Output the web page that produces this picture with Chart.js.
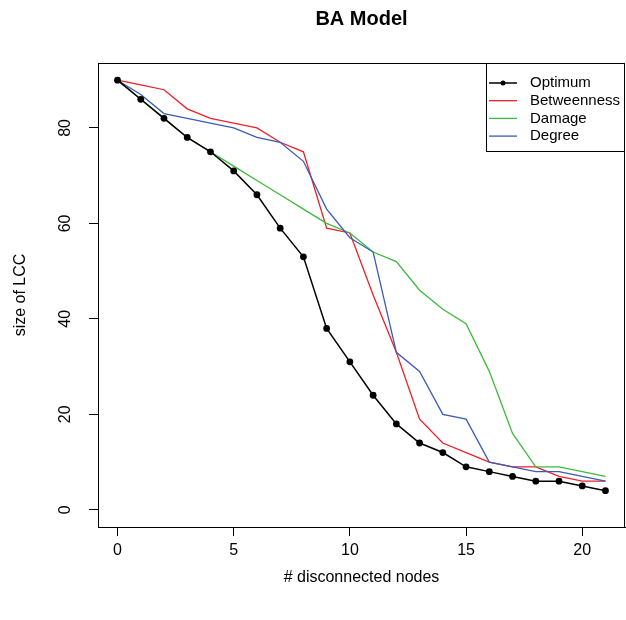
<!DOCTYPE html>
<html>
<head>
<meta charset="utf-8">
<script src="https://cdn.jsdelivr.net/npm/chart.js@4/dist/chart.umd.min.js"></script>
<style>
  html, body { margin: 0; padding: 0; background: #fff; }
  canvas { display: block; }
</style>
</head>
<body>
<canvas id="chart" width="626" height="620"></canvas>
<script>
const nodesRemoved = [0, 1, 2, 3, 4, 5, 6, 7, 8, 9, 10, 11, 12, 13, 14, 15, 16, 17, 18, 19, 20, 21];
const optimum     = [90, 86, 82, 78, 75, 71, 66, 59, 53, 38, 31, 24, 18, 14, 12, 9, 8, 7, 6, 6, 5, 4];
const betweenness = [90, 89, 88, 84, 82, 81, 80, 77, 75, 59, 58, 45, 33, 19, 14, 12, 10, 9, 9, 7, 6, 6];
const damage      = [90, 86, 82, 78, 75, 72, 69, 66, 63, 60, 58, 54, 52, 46, 42, 39, 29, 16, 9, 9, 8, 7];
const degree      = [90, 87, 83, 82, 81, 80, 78, 77, 73, 63, 57, 54, 33, 29, 20, 19, 10, 9, 8, 8, 7, 6];

const xTicks = [0, 5, 10, 15, 20];
const yTicks = [0, 20, 40, 60, 80];

const FONT = "'Liberation Sans', Arial, sans-serif";

function pts(ys) {
  return nodesRemoved.map((x, i) => ({ x: x, y: ys[i] }));
}

// box, rotated y labels, titles and the R-style legend
const rStyle = {
  id: "rStyle",
  afterDraw(chart) {
    const ctx = chart.ctx;
    const a = chart.chartArea;
    const ys = chart.scales.y;
    ctx.save();
    ctx.strokeStyle = "#000";
    ctx.lineWidth = 1;
    ctx.strokeRect(Math.round(a.left) + 0.5, Math.round(a.top) + 0.5,
      Math.round(a.right - a.left) - 1, Math.round(a.bottom - a.top));

    ctx.fillStyle = "#000";
    ctx.font = "16px " + FONT;
    ctx.textAlign = "center";
    ctx.textBaseline = "middle";
    yTicks.forEach(v => {
      ctx.save();
      ctx.translate(66, ys.getPixelForValue(v));
      ctx.rotate(-Math.PI / 2);
      ctx.fillText(String(v), 0, 0);
      ctx.restore();
    });

    const cx = (a.left + a.right) / 2;
    ctx.fillText("# disconnected nodes", cx, 578);
    ctx.save();
    ctx.translate(21, (a.top + a.bottom) / 2);
    ctx.rotate(-Math.PI / 2);
    ctx.fillText("size of LCC", 0, 0);
    ctx.restore();

    ctx.font = "bold 20px " + FONT;
    ctx.fillText("BA Model", cx, 19);

    // legend
    const lx = 486, ly = Math.round(a.top);
    ctx.strokeRect(lx + 0.5, ly + 0.5, Math.round(a.right) - lx - 1, 151 - ly);
    ctx.font = "15px " + FONT;
    ctx.textAlign = "left";
    chart.data.datasets.forEach((ds, i) => {
      const y = 83 + i * 17.7;
      ctx.strokeStyle = ds.borderColor;
      ctx.lineWidth = ds.borderWidth;
      ctx.beginPath();
      ctx.moveTo(489, y);
      ctx.lineTo(517, y);
      ctx.stroke();
      if (ds.pointRadius > 0) {
        ctx.fillStyle = ds.pointBackgroundColor;
        ctx.beginPath();
        ctx.arc(503, y, 2.5, 0, Math.PI * 2);
        ctx.fill();
      }
      ctx.fillStyle = "#000";
      ctx.fillText(ds.label, 530, y);
    });
    ctx.restore();
  }
};

new Chart(document.getElementById("chart"), {
  type: "line",
  data: {
    datasets: [
      { label: "Optimum", data: pts(optimum), borderColor: "#000", backgroundColor: "#000",
        pointBackgroundColor: "#000", pointBorderColor: "#000", borderWidth: 1.5,
        pointRadius: 3.4, pointBorderWidth: 0, tension: 0, order: 0 },
      { label: "Betweenness", data: pts(betweenness), borderColor: "#F01F28", borderWidth: 1.3,
        pointRadius: 0, tension: 0, order: 3 },
      { label: "Damage", data: pts(damage), borderColor: "#3DBA3D", borderWidth: 1.3,
        pointRadius: 0, tension: 0, order: 2 },
      { label: "Degree", data: pts(degree), borderColor: "#3A5BB8", borderWidth: 1.3,
        pointRadius: 0, tension: 0, order: 1 }
    ]
  },
  options: {
    responsive: false,
    animation: false,
    devicePixelRatio: 1,
    layout: { autoPadding: false, padding: { top: 63, right: 1, left: 0, bottom: 0 } },
    plugins: {
      legend: { display: false },
      title: { display: false },
      tooltip: { enabled: false }
    },
    scales: {
      x: {
        type: "linear",
        min: -0.84,
        max: 21.84,
        afterBuildTicks: s => { s.ticks = xTicks.map(v => ({ value: v })); },
        afterFit: s => { s.height = 93; s.paddingLeft = 0; s.paddingRight = 0; },
        grid: { drawOnChartArea: false, drawTicks: true, tickLength: 9, color: "#000", lineWidth: 1 },
        border: { display: true, color: "#000", width: 1 },
        ticks: { color: "#000", font: { family: FONT, size: 16 }, padding: 5, maxRotation: 0, autoSkip: false }
      },
      y: {
        type: "linear",
        min: -3.6,
        max: 93.6,
        afterBuildTicks: s => { s.ticks = yTicks.map(v => ({ value: v })); },
        afterFit: s => { s.width = 98; s.paddingTop = 0; s.paddingBottom = 0; },
        grid: { drawOnChartArea: false, drawTicks: true, tickLength: 9, color: "#000", lineWidth: 1 },
        border: { display: true, color: "#000", width: 1 },
        ticks: { color: "rgba(0,0,0,0)", font: { family: FONT, size: 16 }, autoSkip: false }
      }
    }
  },
  plugins: [rStyle]
});
</script>
</body>
</html>
